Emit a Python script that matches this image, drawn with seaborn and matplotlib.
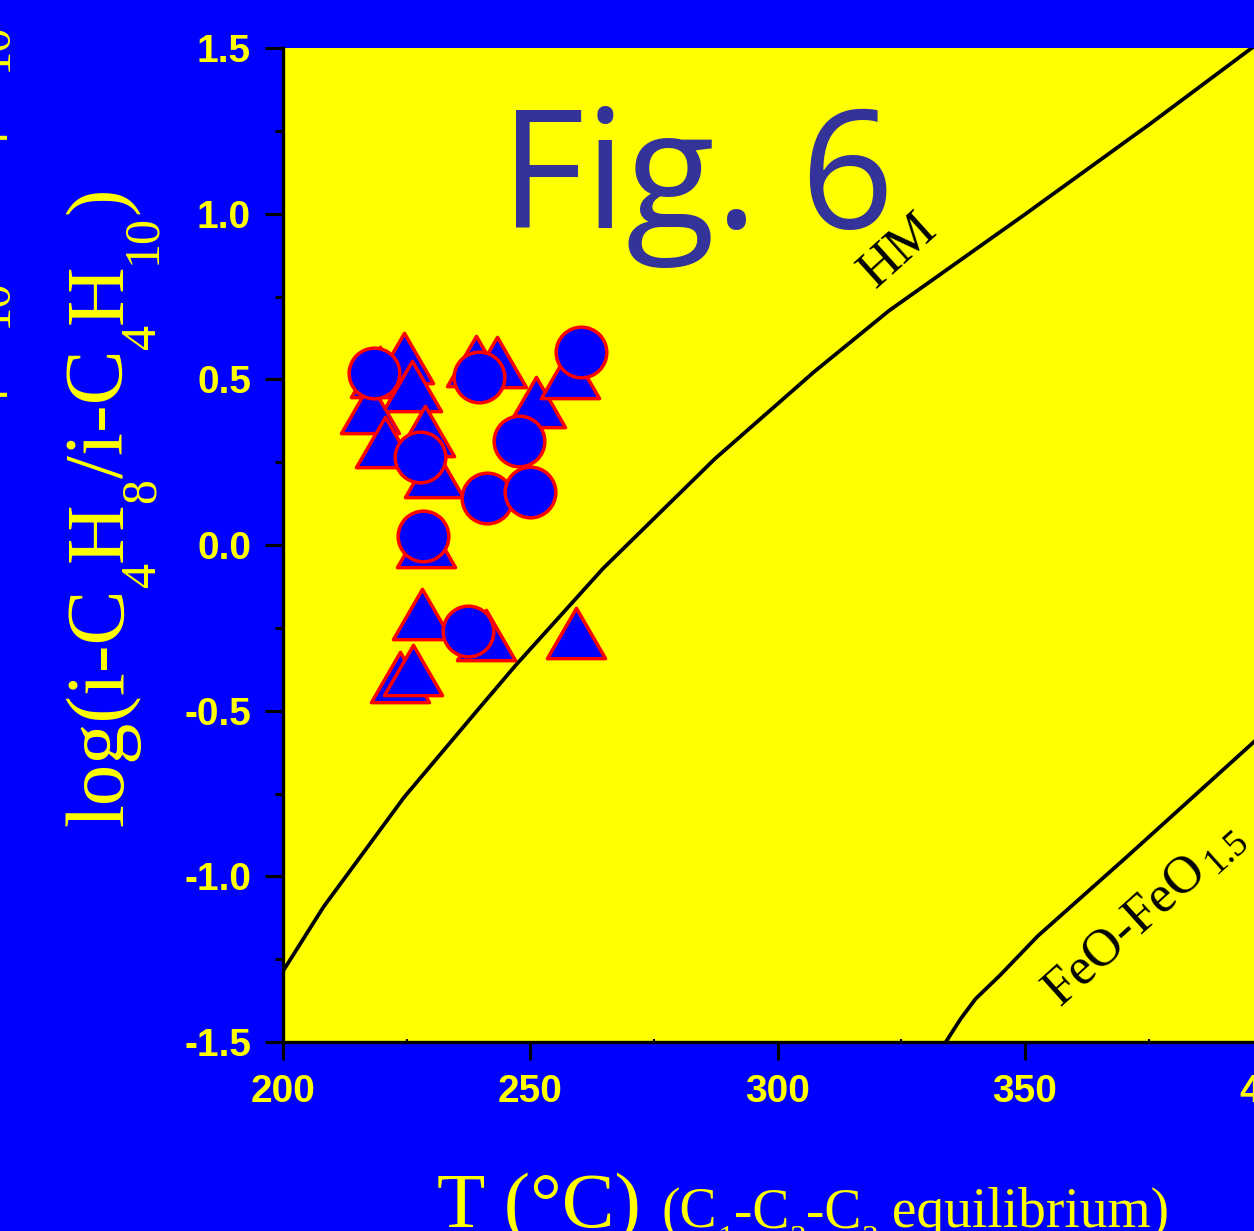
import numpy as np
import pandas as pd
import matplotlib
matplotlib.use("Agg")
import matplotlib.pyplot as plt
from matplotlib.path import Path
from matplotlib.markers import MarkerStyle
import seaborn as sns

# ---------------- data ----------------
circle_T = [218.3, 239.7, 260.3, 247.7, 227.7, 241.2, 249.9, 228.4, 237.5]
circle_logr = [0.518, 0.506, 0.583, 0.315, 0.266, 0.141, 0.161, 0.027, -0.259]

tri_T = [219.6, 224.5, 239.0, 243.2, 226.0, 217.5, 220.6, 228.7, 230.6,
         251.2, 258.1, 228.9, 228.0, 241.0, 259.2, 223.7, 226.3]
tri_logr = [0.523, 0.563, 0.556, 0.553, 0.480, 0.412, 0.312, 0.345, 0.221,
            0.433, 0.518, 0.010, -0.207, -0.272, -0.267, -0.397, -0.377]

hm_T = [200.0, 208.2, 224.5, 239.8, 247.1, 264.7, 287.3, 307.4, 322.5, 350.1, 375.2, 395.4, 400.0]
hm_logr = [-1.286, -1.092, -0.761, -0.490, -0.362, -0.071, 0.260, 0.523, 0.707, 0.999, 1.270, 1.495, 1.545]

feo_T = [334.0, 337.0, 340.0, 345.0, 352.6, 370.6, 396.3, 400.0]
feo_logr = [-1.50, -1.43, -1.37, -1.298, -1.18, -0.941, -0.594, -0.545]

x_ticks = [200, 250, 300, 350, 400]
x_ticklabels = ["200", "250", "300", "350", "400"]
y_ticks = [-1.5, -1.0, -0.5, 0.0, 0.5, 1.0, 1.5]
y_ticklabels = ["-1.5", "-1.0", "-0.5", "0.0", "0.5", "1.0", "1.5"]
y_minor = [-1.25, -0.75, -0.25, 0.25, 0.75, 1.25]
x_minor = [225, 275, 325, 375]

# ---------------- style ----------------
sns.set_style("ticks")
plt.rcParams["axes.unicode_minus"] = False
plt.rcParams["mathtext.fontset"] = "custom"
plt.rcParams["mathtext.rm"] = "Liberation Serif"
plt.rcParams["mathtext.it"] = "Liberation Serif:italic"
plt.rcParams["mathtext.bf"] = "Liberation Serif:bold"
plt.rcParams["mathtext.default"] = "regular"
plt.rcParams["font.family"] = ["Liberation Serif", "DejaVu Sans"]

BLUE = "#0000FF"
YELLOW = "#FFFF00"
RED = "#FF0000"

W, H = 1254, 1231
fig = plt.figure(figsize=(W / 100, H / 100), dpi=100, facecolor=BLUE)
ax = fig.add_axes([283 / W, (H - 1042) / H, 989.3 / W, 994 / H])
ax.set_facecolor(YELLOW)

# curves
sns.lineplot(x=hm_T, y=hm_logr, color="black", linewidth=2.7, ax=ax,
             sort=False, estimator=None, zorder=2)
sns.lineplot(x=feo_T, y=feo_logr, color="black", linewidth=2.7, ax=ax,
             sort=False, estimator=None, zorder=2)

# markers (equilateral triangles, circles)
h = 0.5 * np.sqrt(3) / 2
tri_marker = MarkerStyle(Path([(0, h), (-0.5, -h), (0.5, -h), (0, h)],
                              [Path.MOVETO, Path.LINETO, Path.LINETO, Path.CLOSEPOLY]))
tri_df = pd.DataFrame({"T": tri_T, "logr": tri_logr})
circ_df = pd.DataFrame({"T": circle_T, "logr": circle_logr})
sns.scatterplot(data=tri_df, x="T", y="logr", marker=tri_marker, s=1750,
                color=BLUE, edgecolor=RED, linewidth=2.5, ax=ax, zorder=3)
sns.scatterplot(data=circ_df, x="T", y="logr", marker="o", s=1330,
                color=BLUE, edgecolor=RED, linewidth=2.5, ax=ax, zorder=4)

ax.set_xlim(200, 400)
ax.set_ylim(-1.5, 1.5)
ax.set_xlabel("")
ax.set_ylabel("")

# ticks
ax.set_xticks(x_ticks)
ax.set_xticklabels(x_ticklabels)
ax.set_yticks(y_ticks)
ax.set_yticklabels(y_ticklabels)
ax.set_yticks(y_minor, minor=True)
ax.set_xticks(x_minor, minor=True)
ax.tick_params(axis="both", which="major", direction="out", length=13, width=2.2,
               color="black", labelcolor=YELLOW, labelsize=28, pad=10)
ax.tick_params(axis="y", which="minor", direction="out", length=6, width=2.2, color="black")
ax.tick_params(axis="x", which="minor", direction="in", length=2, width=1.5, color="black")
for lbl in ax.get_xticklabels() + ax.get_yticklabels():
    lbl.set_fontweight("bold")
    lbl.set_family(["Liberation Sans", "DejaVu Sans"])

for side in ["left", "bottom"]:
    ax.spines[side].set_linewidth(2.4)
    ax.spines[side].set_color("black")
ax.spines["top"].set_visible(False)
ax.spines["right"].set_visible(False)

# curve labels
ax.text(324.3, 0.887, "HM", rotation=42, rotation_mode="anchor", ha="center", va="center",
        fontsize=38, color="black", family="Liberation Serif")
ax.text(374.1, -1.114, r"FeO-FeO$_{\,1.5}$", rotation=42, rotation_mode="anchor",
        ha="center", va="center", fontsize=38, color="black", family="Liberation Serif")

# title
fig.text(697 / W, 1 - 228 / H, "Fig. 6", ha="center", va="baseline", fontsize=118,
         color="#333399", family=["Open Sans", "DejaVu Sans"])

renderer = fig.canvas.get_renderer()


def rich_text(x_px, y_px, pieces, rotation=0, color=YELLOW, family="Liberation Serif"):
    """Place text pieces one after another; each piece: (text, size, drop_px)."""
    pos = x_px if rotation == 0 else y_px
    for s, size, drop in pieces:
        if rotation == 0:
            t = fig.text(pos / W, 1 - (y_px + drop) / H, s, fontsize=size, ha="left",
                         va="baseline", color=color, family=family)
            pos += t.get_window_extent(renderer).width
        else:
            t = fig.text((x_px + drop) / W, 1 - pos / H, s, fontsize=size, rotation=90,
                         rotation_mode="anchor", ha="left", va="baseline",
                         color=color, family=family)
            pos -= t.get_window_extent(renderer).height


# y label
rich_text(122, 826, [("log(i-C", 59.5, 0), ("4", 36, 33), ("H", 59.5, 0), ("8", 36, 33),
                     ("/i-C", 59.5, 0), ("4", 36, 33), ("H", 59.5, 0), ("10", 36, 33),
                     (")", 59.5, 0)], rotation=90)

# cut-off label of the neighbouring panel at the left edge (only its edge shows)
rich_text(-26, 660, [("log(n-C", 58, 0), ("4", 35, 33), ("H", 58, 0), ("10", 35, 33),
                     ("/i-C", 58, 0), ("4", 35, 33), ("H", 58, 0), ("10", 35, 33),
                     (")", 58, 0)], rotation=90)

# x label
rich_text(437, 1227, [("T (°C)", 57, 0)])
rich_text(662, 1227, [("(C", 40, 0), ("1", 24, 21), ("-C", 40, 0), ("2", 24, 21),
                      ("-C", 40, 0), ("3", 24, 21), (" equilibrium)", 40, 0)])

fig.savefig("out.png", dpi=100, facecolor=BLUE)
